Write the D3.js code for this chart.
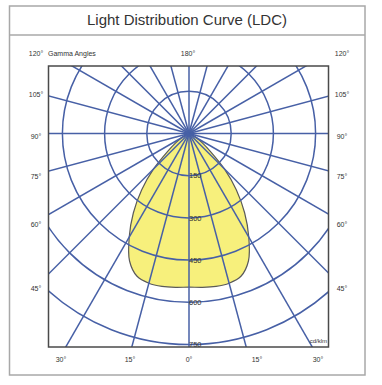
<!DOCTYPE html>
<html><head><meta charset="utf-8">
<script src="https://cdn.jsdelivr.net/npm/d3@7"></script>
<style>body{margin:0;background:#fff}svg{display:block}</style>
</head><body><svg id="c" width="382" height="385"></svg>
<script>
// ---- data ----
const title = "Light Distribution Curve (LDC)";
const gammaAngles = [0, 5, 10, 15, 20, 25, 30, 35, 40, 45, 50, 55, 60, 65, 70];
const intensity   = [546, 549, 552, 551, 540, 500, 425, 345, 262, 178, 100, 58, 32, 15, 0];
const ringValues  = [150, 300, 450, 600, 750];
const spokeAngles = [0,15,30,45,60,75,90,105,120,135,150,165,180,195,210,225,240,255,270,285,300,315,330,345];
const sideLabels  = ["120°", "105°", "90°", "75°", "60°", "45°"];
const bottomLabels = ["30°", "15°", "0°", "15°", "30°"];
const topLabel = "180°";
const axisTitle = "Gamma Angles";
const unitLabel = "cd/klm";

// ---- layout ----
const W = 382, H = 385;
const cx = 189, cy = 133.5;
const box = {x0: 48.5, y0: 66, x1: 328.5, y1: 347};
const sideY = [54, 95, 137, 177, 225, 289];
const bottomX = [61, 130, 189, 257, 318];
const gridColor = "#4760a6";
const font = "'Liberation Sans', Arial, sans-serif";

const svg = d3.select("#c");
const r = d3.scaleLinear().domain([0, 750]).range([0, 211]);

// outer frame
svg.append("rect").attr("x", 9.5).attr("y", 6).attr("width", 355.5).attr("height", 369)
  .attr("fill", "#fff").attr("stroke", "#a8a8a8").attr("stroke-width", 1.5);
svg.append("line").attr("x1", 9.5).attr("x2", 365).attr("y1", 35).attr("y2", 35)
  .attr("stroke", "#a8a8a8").attr("stroke-width", 1.5);
svg.append("text").attr("x", 187).attr("y", 25).attr("text-anchor", "middle")
  .attr("font-family", font).attr("font-size", 15).attr("fill", "#333").text(title);

// clip
svg.append("clipPath").attr("id", "clip").append("rect")
  .attr("x", box.x0).attr("y", box.y0).attr("width", box.x1 - box.x0).attr("height", box.y1 - box.y0);

const plot = svg.append("g").attr("clip-path", "url(#clip)");
const g = plot.append("g").attr("transform", `translate(${cx},${cy})`);

// curve points: right side (gamma 0..max), then left side back
const toRad = d => d * Math.PI / 180;
const pts = [];
gammaAngles.forEach((a, i) => pts.push({ang: Math.PI - toRad(a), v: intensity[i]}));
for (let i = gammaAngles.length - 2; i >= 1; i--) pts.push({ang: Math.PI + toRad(gammaAngles[i]), v: intensity[i]});
const line = d3.lineRadial().angle(d => d.ang).radius(d => r(d.v)).curve(d3.curveCatmullRomClosed.alpha(0.5));
g.append("path").attr("d", line(pts)).attr("fill", "#f7f07c").attr("stroke", "#5a5a5a").attr("stroke-width", 1.2);

// rings
g.selectAll("circle.ring").data(ringValues).join("circle").attr("class", "ring")
  .attr("r", d => r(d)).attr("fill", "none").attr("stroke", gridColor).attr("stroke-width", 1.5);
// spokes
const R = 400;
g.selectAll("line.spoke").data(spokeAngles).join("line").attr("class", "spoke")
  .attr("x1", 0).attr("y1", 0)
  .attr("x2", d => R * Math.sin(toRad(d))).attr("y2", d => R * Math.cos(toRad(d)))
  .attr("stroke", gridColor).attr("stroke-width", 1.5);

// ring labels
g.selectAll("text.rl").data(ringValues).join("text").attr("class", "rl")
  .attr("x", 0).attr("y", d => r(d)).attr("dy", "0.35em")
  .attr("font-family", font).attr("font-size", 7.5).attr("fill", "#333").text(d => d);

// box
svg.append("rect").attr("x", box.x0).attr("y", box.y0).attr("width", box.x1 - box.x0).attr("height", box.y1 - box.y0)
  .attr("fill", "none").attr("stroke", "#4a4a4a").attr("stroke-width", 1.5);

const lab = (x, y, t, anchor = "middle", size = 7) => svg.append("text").attr("x", x).attr("y", y)
  .attr("dy", "0.35em").attr("text-anchor", anchor).attr("font-family", font)
  .attr("font-size", size).attr("fill", "#333").text(t);

sideLabels.forEach((t, i) => { lab(36, sideY[i], t); lab(342, sideY[i], t); });
bottomLabels.forEach((t, i) => lab(bottomX[i], 360, t));
lab(188, 54, topLabel);
lab(48, 54, axisTitle, "start");
lab(327, 341, unitLabel, "end", 6);
</script></body></html>
